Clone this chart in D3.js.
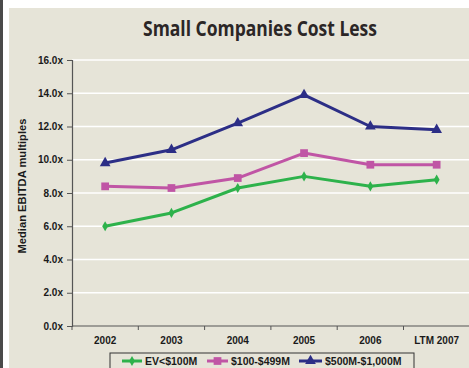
<!DOCTYPE html>
<html>
<head>
<meta charset="utf-8">
<script src="https://cdn.jsdelivr.net/npm/d3@7"></script>
<style>
  body { margin: 0; background: #fff; }
  svg { display: block; font-family: "Liberation Sans", Arial, sans-serif; }
</style>
</head>
<body>
<svg id="chart" width="469" height="368"></svg>
<script>
'use strict';

var years = ["2002", "2003", "2004", "2005", "2006", "LTM 2007"];
var small = [6.0, 6.8, 8.3, 9.0, 8.4, 8.8];
var mid = [8.4, 8.3, 8.9, 10.4, 9.7, 9.7];
var large = [9.8, 10.6, 12.2, 13.9, 12.0, 11.8];
var yTicks = [0, 2, 4, 6, 8, 10, 12, 14, 16];

var series = [
  { name: "EV<$100M", values: small, color: "#2db24b", marker: "diamond" },
  { name: "$100-$499M", values: mid, color: "#c055a5", marker: "square" },
  { name: "$500M-$1,000M", values: large, color: "#2c2e86", marker: "triangle" }
];

var svg = d3.select("#chart");
var bg = "#e6e4d8";

// frame
svg.append("rect").attr("x", 0).attr("y", 0).attr("width", 3).attr("height", 368).attr("fill", "#4a4a4a");
svg.append("rect").attr("x", 9).attr("y", 8).attr("width", 460).attr("height", 360).attr("fill", bg);

var plotLeft = 72, plotTop = 60, plotBottom = 326, plotRight = 469;
var x = d3.scaleBand().domain(years).range([plotLeft, plotLeft + 66.3 * 6]);
var y = d3.scaleLinear().domain([0, 16]).range([plotBottom, plotTop]);

// grid
svg.append("g").selectAll("line").data(yTicks.filter(function(d) { return d > 0; }))
  .enter().append("line")
  .attr("x1", plotLeft).attr("x2", plotRight)
  .attr("y1", function(d) { return y(d); }).attr("y2", function(d) { return y(d); })
  .attr("stroke", "#fff").attr("stroke-width", 1.5);

// y axis
var yAxis = svg.append("g").attr("transform", "translate(" + plotLeft + ",0)")
  .call(d3.axisLeft(y).tickValues(yTicks).tickSize(5).tickPadding(4)
    .tickFormat(function(d) { return d3.format(".1f")(d) + "x"; }));
yAxis.select(".domain").attr("stroke", "#555").attr("stroke-width", 1.2);
yAxis.selectAll(".tick line").attr("stroke", "#555");
yAxis.selectAll("text").attr("font-size", 10).attr("font-weight", "bold").attr("fill", "#1a1a1a")
  .attr("font-family", "'Liberation Sans', Arial, sans-serif");

// x axis
var xAxis = svg.append("g").attr("transform", "translate(0," + plotBottom + ")")
  .call(d3.axisBottom(x).tickSize(0).tickPadding(11));
xAxis.select(".domain").remove();
xAxis.append("line").attr("x1", plotLeft).attr("x2", plotRight).attr("stroke", "#555").attr("stroke-width", 1.2);
xAxis.selectAll(".sep").data(years).enter().append("line")
  .attr("x1", function(d) { return x(d); }).attr("x2", function(d) { return x(d); })
  .attr("y1", 0).attr("y2", 4).attr("stroke", "#555");
xAxis.selectAll("text").attr("font-size", 10).attr("font-weight", "bold").attr("fill", "#1a1a1a")
  .attr("font-family", "'Liberation Sans', Arial, sans-serif");

// title
svg.append("text").attr("x", 260).attr("y", 36).attr("text-anchor", "middle")
  .attr("font-family", "'Open Sans', sans-serif").attr("font-weight", "bold").attr("font-size", 21)
  .attr("textLength", 234).attr("lengthAdjust", "spacingAndGlyphs")
  .attr("fill", "#2b2626").text("Small Companies Cost Less");

// y title
svg.append("text").attr("transform", "translate(26,186) rotate(-90)").attr("text-anchor", "middle")
  .attr("font-size", 11.5).attr("font-weight", "bold").attr("fill", "#1a1a1a")
  .attr("textLength", 135).attr("lengthAdjust", "spacingAndGlyphs")
  .text("Median EBITDA multiples");

function markerPath(type) {
  if (type === "diamond") return d3.symbol().type(d3.symbolDiamond).size(30)();
  if (type === "square") return d3.symbol().type(d3.symbolSquare).size(60)();
  return d3.symbol().type(d3.symbolTriangle).size(50)();
}

var line = d3.line()
  .x(function(d, i) { return x(years[i]) + x.bandwidth() / 2; })
  .y(function(d) { return y(d); });

series.forEach(function(s) {
  var g = svg.append("g");
  g.append("path").datum(s.values).attr("d", line)
    .attr("fill", "none").attr("stroke", s.color).attr("stroke-width", 3).attr("stroke-linejoin", "round");
  g.selectAll("path.m").data(s.values).enter().append("path").attr("class", "m")
    .attr("d", markerPath(s.marker))
    .attr("transform", function(d, i) {
      return "translate(" + (x(years[i]) + x.bandwidth() / 2) + "," + y(d) + ")";
    })
    .attr("fill", s.color);
});

// legend
var leg = svg.append("g");
leg.append("rect").attr("x", 110).attr("y", 353).attr("width", 304).attr("height", 30)
  .attr("fill", bg).attr("stroke", "#333").attr("stroke-width", 1);
var legX = [122, 207, 299];
var legW = [20, 21, 23];
series.forEach(function(s, i) {
  var cx = legX[i] + legW[i] / 2;
  leg.append("line").attr("x1", legX[i]).attr("x2", legX[i] + legW[i]).attr("y1", 361).attr("y2", 361)
    .attr("stroke", s.color).attr("stroke-width", 3);
  leg.append("path").attr("d", markerPath(s.marker)).attr("transform", "translate(" + cx + ",361)")
    .attr("fill", s.color);
  leg.append("text").attr("x", legX[i] + legW[i] + 3).attr("y", 365)
    .attr("font-size", 10.5).attr("font-weight", "bold").attr("fill", "#1a1a1a").text(s.name);
});
</script>
</body>
</html>
